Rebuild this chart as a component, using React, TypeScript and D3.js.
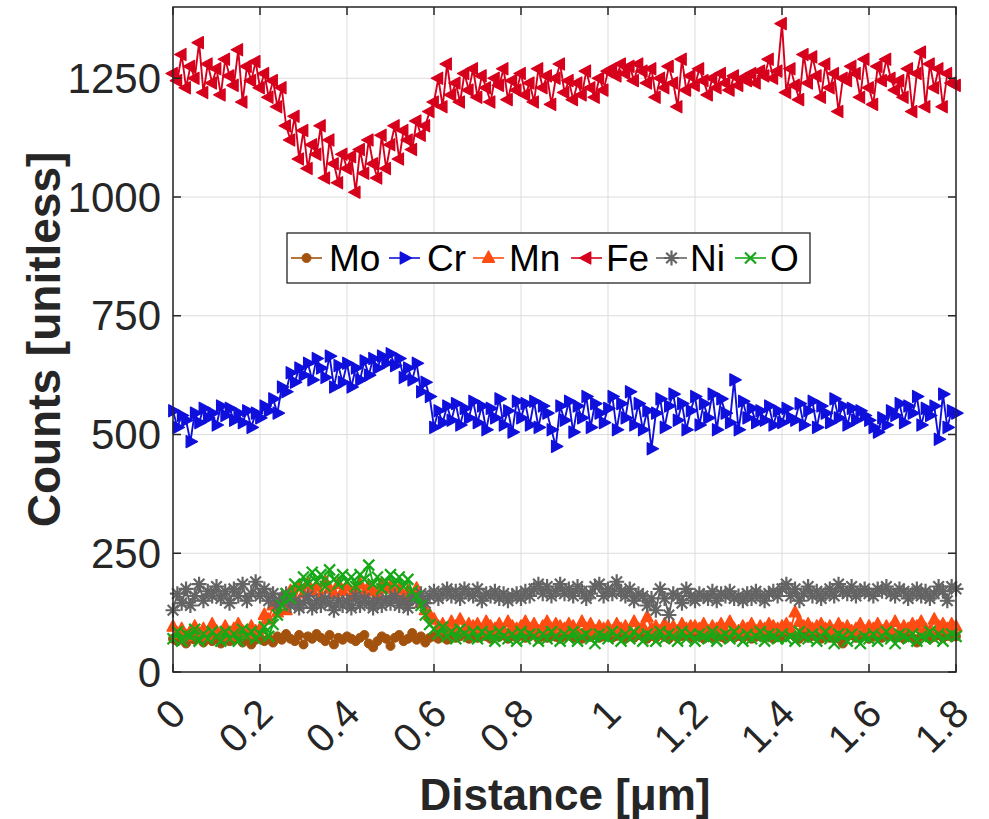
import React from 'react';
import * as d3 from 'd3';

// Line-scan counts along the measured distance, 0.01 µm steps from 0 to 1.8 µm
const distance = d3.range(181).map((i) => Math.round(i) / 100);

const moCounts = [
  70, 65, 75, 60, 70, 68, 72, 62, 75, 65,
  70, 60, 72, 65, 68, 75, 62, 70, 58, 68,
  72, 65, 70, 62, 75, 68, 80, 70, 65, 78,
  58, 75, 70, 80, 72, 65, 78, 58, 72, 68,
  75, 70, 65, 72, 78, 60, 52, 65, 75, 70,
  55, 72, 78, 65, 70, 82, 68, 75, 62, 72,
  75, 70, 78, 68, 80, 72, 75, 82, 70, 78,
  72, 80, 75, 70, 78, 74, 80, 70, 76, 72,
  78, 72, 75, 80, 70, 76, 72, 78, 74, 70,
  75, 80, 72, 78, 70, 76, 74, 80, 72, 75,
  78, 72, 76, 80, 70, 75, 72, 78, 74, 70,
  76, 72, 80, 74, 70, 78, 72, 76, 80, 72,
  74, 78, 70, 76, 72, 80, 74, 70, 78, 72,
  76, 72, 78, 70, 74, 80, 72, 76, 70, 78,
  72, 76, 80, 74, 70, 78, 72, 76, 74, 70,
  78, 72, 76, 70, 60, 74, 78, 72, 76, 80,
  70, 74, 78, 72, 76, 80, 72, 74, 70, 78,
  72, 62, 76, 80, 70, 74, 78, 72, 76, 74,
  75,
];

const crCounts = [
  550, 515, 540, 530, 485, 545, 525, 555, 535, 545,
  520, 560, 540, 555, 530, 545, 525, 550, 515, 545,
  535, 560, 550, 575, 545, 600, 590, 630, 610, 640,
  625, 650, 615, 660, 640, 620, 665, 600, 645, 610,
  650, 600, 640, 615, 655, 625, 660, 640, 665, 650,
  670, 645, 660, 620, 640, 615, 650, 590, 610, 580,
  515, 550, 525, 560, 530, 565, 520, 555, 535, 570,
  525, 560, 510, 555, 535, 575, 520, 550, 505, 570,
  535, 565, 520, 570, 515, 560, 545, 510, 475, 560,
  530, 570, 505, 560, 535, 580, 515, 565, 545, 525,
  555, 580, 510, 565, 535, 590, 520, 565, 510, 550,
  470, 545, 575, 515, 560, 585, 530, 565, 510, 550,
  580, 520, 565, 535, 585, 510, 575, 545, 525, 615,
  510, 570, 535, 555, 525, 550, 530, 560, 520, 550,
  525, 555, 535, 530, 565, 520, 550, 570, 515, 560,
  545, 525, 575, 535, 560, 520, 555, 530, 550, 540,
  530, 515, 505, 535, 520, 550, 540, 565, 525, 560,
  545, 580, 520, 555, 540, 560, 490, 585, 515, 550,
  545,
];

const mnCounts = [
  95, 80, 90, 75, 85, 95, 80, 90, 75, 100,
  85, 80, 95, 75, 90, 100, 85, 80, 95, 85,
  90, 120, 110, 140, 125, 155, 130, 170, 150, 180,
  165, 185, 170, 180, 160, 190, 175, 165, 185, 170,
  180, 160, 175, 185, 165, 180, 170, 160, 185, 175,
  180, 165, 175, 150, 170, 160, 175, 145, 130, 120,
  110, 95, 100, 90, 105, 95, 110, 90, 100, 95,
  100, 85, 105, 95, 90, 100, 85, 105, 95, 90,
  95, 105, 90, 100, 85, 95, 105, 90, 100, 95,
  90, 100, 95, 85, 105, 90, 100, 85, 95, 90,
  95, 85, 100, 90, 95, 85, 105, 90, 95, 115,
  90, 95, 85, 100, 90, 95, 85, 100, 90, 95,
  95, 90, 100, 85, 95, 90, 100, 85, 105, 90,
  85, 95, 90, 100, 85, 95, 90, 100, 95, 90,
  95, 100, 90, 125, 105, 95, 100, 90, 95, 100,
  90, 95, 85, 100, 90, 95, 85, 90, 100, 85,
  95, 90, 100, 85, 95, 90, 105, 85, 95, 90,
  100, 95, 105, 90, 85, 110, 95, 100, 90, 100,
  95,
];

const feCounts = [
  1260, 1245, 1300, 1230, 1275, 1250, 1325, 1220, 1280, 1240,
  1270, 1215, 1290, 1255, 1235, 1310, 1200, 1275, 1245, 1285,
  1230, 1260, 1210, 1245, 1190, 1230, 1150, 1120, 1170, 1080,
  1140, 1060, 1110, 1090, 1150, 1040, 1120, 1070, 1030, 1090,
  1060, 1085, 1010, 1100, 1050, 1120, 1070, 1040, 1130, 1060,
  1110, 1150, 1080, 1140, 1120, 1100, 1160, 1130, 1150, 1180,
  1200, 1250, 1190, 1280, 1215, 1240, 1200, 1260, 1225, 1270,
  1210, 1255, 1230, 1200, 1250, 1235, 1270, 1205, 1245, 1225,
  1260, 1215, 1240, 1200, 1270, 1230, 1255, 1195, 1250, 1280,
  1220, 1245, 1205, 1240, 1215, 1265, 1230, 1210, 1250, 1225,
  1265, 1270, 1255, 1280, 1260, 1275, 1245, 1280, 1265, 1240,
  1270, 1210, 1250, 1230, 1275, 1240, 1190, 1290, 1225, 1255,
  1235, 1270, 1245, 1215, 1250, 1230, 1260, 1240, 1225, 1255,
  1235, 1250, 1245, 1260, 1240, 1265, 1255, 1290, 1250, 1265,
  1365, 1220, 1270, 1235, 1205, 1300, 1240, 1295, 1255, 1210,
  1280, 1230, 1260, 1180, 1250, 1245, 1275, 1260, 1210, 1290,
  1230, 1195, 1275, 1245, 1290, 1250, 1225, 1245, 1210, 1270,
  1180, 1260, 1305, 1190, 1280, 1230, 1270, 1190, 1260, 1240,
  1235,
];

const niCounts = [
  130, 165, 145, 175, 140, 160, 185, 150, 170, 160,
  180, 155, 170, 145, 175, 160, 185, 150, 165, 190,
  160, 175, 150, 165, 140, 155, 165, 140, 150, 135,
  145, 160, 135, 150, 140, 155, 145, 130, 150, 140,
  150, 135, 160, 140, 155, 145, 135, 150, 140, 155,
  145, 160, 140, 150, 135, 155, 150, 165, 145, 160,
  170, 155, 165, 175, 160, 170, 155, 175, 165, 160,
  175, 150, 165, 160, 170, 155, 165, 150, 160, 165,
  155, 170, 160, 175, 185, 165, 180, 160, 170, 185,
  165, 175, 160, 180, 170, 155, 165, 180, 185, 160,
  175, 165, 190, 170, 160, 175, 150, 165, 160, 140,
  155, 130, 175, 155, 120, 165, 160, 145, 175, 160,
  150, 165, 160, 155, 170, 150, 165, 160, 170, 155,
  160, 150, 165, 155, 170, 160, 150, 165, 170, 160,
  175, 185, 160, 175, 150, 165, 180, 160, 170, 155,
  165, 175, 160, 185, 170, 165, 180, 160, 170, 175,
  165, 160, 175, 170, 180, 165, 160, 175, 170, 155,
  165, 175, 160, 170, 155, 165, 180, 170, 150, 180,
  175,
];

const oCounts = [
  70, 85, 65, 80, 75, 90, 65, 80, 70, 85,
  75, 65, 85, 70, 80, 65, 90, 75, 85, 70,
  80, 95, 75, 100, 120, 140, 165, 155, 185, 175,
  200, 185, 210, 190, 205, 180, 215, 195, 185, 205,
  190, 200, 180, 205, 195, 225, 185, 200, 175, 190,
  205, 185, 200, 180, 195, 170, 160, 140, 120, 100,
  90, 80, 95, 75, 85, 70, 90, 80, 75, 85,
  70, 85, 75, 80, 65, 85, 75, 70, 80, 65,
  85, 70, 80, 75, 65, 80, 70, 85, 75, 65,
  80, 70, 85, 65, 75, 80, 70, 60, 80, 75,
  70, 85, 75, 65, 80, 70, 85, 75, 65, 80,
  75, 65, 85, 70, 80, 75, 65, 85, 70, 80,
  65, 80, 75, 70, 85, 65, 75, 80, 70, 85,
  75, 65, 80, 70, 75, 85, 65, 80, 75, 70,
  80, 70, 75, 65, 85, 75, 70, 80, 65, 75,
  85, 70, 60, 80, 75, 65, 80, 70, 60, 75,
  70, 80, 65, 75, 85, 70, 60, 80, 75, 70,
  80, 65, 75, 70, 85, 70, 80, 65, 75, 80,
  75,
];

const xTicks = [0, 0.2, 0.4, 0.6, 0.8, 1, 1.2, 1.4, 1.6, 1.8];
const xTickLabels = ['0', '0.2', '0.4', '0.6', '0.8', '1', '1.2', '1.4', '1.6', '1.8'];
const yTicks = [0, 250, 500, 750, 1000, 1250];
const yTickLabels = ['0', '250', '500', '750', '1000', '1250'];

type MarkerKind = 'circle' | 'right' | 'up' | 'left' | 'star' | 'cross';

const seriesNames = ['Mo', 'Cr', 'Mn', 'Fe', 'Ni', 'O'];
const seriesValues = [moCounts, crCounts, mnCounts, feCounts, niCounts, oCounts];
const seriesColors = ['#a3520e', '#1010dc', '#ff4c12', '#d6001c', '#646464', '#17a817'];
const seriesMarkers: MarkerKind[] = ['circle', 'right', 'up', 'left', 'star', 'cross'];

const plot = { left: 173, right: 956, top: 7, bottom: 672 };
const axisColor = '#262626';
const font = 'Liberation Sans, Arial, Helvetica, sans-serif';

function Marker({ kind, x, y, color }: { kind: MarkerKind; x: number; y: number; color: string }) {
  const s = 7;
  const h = s * 0.85;
  if (kind === 'circle') {
    return <circle cx={x} cy={y} r={4.5} fill={color} stroke={color} strokeWidth={1} />;
  }
  if (kind === 'right' || kind === 'left' || kind === 'up') {
    let pts: [number, number][];
    if (kind === 'right') pts = [[x + s, y], [x - s * 0.6, y - h], [x - s * 0.6, y + h]];
    else if (kind === 'left') pts = [[x - s, y], [x + s * 0.6, y - h], [x + s * 0.6, y + h]];
    else pts = [[x, y - s], [x - h, y + s * 0.6], [x + h, y + s * 0.6]];
    return (
      <polygon
        points={pts.map((p) => p.join(',')).join(' ')}
        fill={color}
        stroke={color}
        strokeWidth={1.4}
        strokeLinejoin="round"
      />
    );
  }
  if (kind === 'star') {
    const r = 7.5;
    const d = r * Math.SQRT1_2;
    return (
      <path
        d={`M${x - r},${y}L${x + r},${y}M${x},${y - r}L${x},${y + r}M${x - d},${y - d}L${x + d},${y + d}M${x - d},${y + d}L${x + d},${y - d}`}
        stroke={color}
        strokeWidth={2.2}
      />
    );
  }
  const r = 5.5;
  return (
    <path
      d={`M${x - r},${y - r}L${x + r},${y + r}M${x - r},${y + r}L${x + r},${y - r}`}
      stroke={color}
      strokeWidth={2.2}
    />
  );
}

export default function App() {
  const x = d3.scaleLinear().domain([0, 1.8]).range([plot.left, plot.right]);
  const y = d3.scaleLinear().domain([0, 1400]).range([plot.bottom, plot.top]);
  const tickLen = 8;

  const line = d3
    .line<[number, number]>()
    .x((d) => x(d[0]))
    .y((d) => y(d[1]));

  const legend = { x: 287, y: 233, w: 523, h: 50 };
  const legendLineStarts = [291, 389, 473, 571, 656, 735];
  const legendTextStarts = [329, 427, 509, 606, 690, 770];
  const legendLineLen = 31;
  const legendMid = legend.y + legend.h / 2;

  return (
    <svg
      width={989}
      height={819}
      style={{ position: 'absolute', left: 0, top: 0, background: '#ffffff' }}
      fontFamily={font}
    >
      <rect x={0} y={0} width={989} height={819} fill="#ffffff" />

      {/* grid */}
      <g stroke="#dcdcdc" strokeWidth={1}>
        {xTicks.map((t) => (
          <line key={'gx' + t} x1={x(t)} x2={x(t)} y1={plot.top} y2={plot.bottom} />
        ))}
        {yTicks.map((t) => (
          <line key={'gy' + t} x1={plot.left} x2={plot.right} y1={y(t)} y2={y(t)} />
        ))}
      </g>

      {/* series */}
      {seriesNames.map((name, si) => {
        const pts: [number, number][] = distance.map((d, i) => [d, seriesValues[si][i]]);
        return (
          <g key={name}>
            <path d={line(pts) || ''} fill="none" stroke={seriesColors[si]} strokeWidth={1.9} strokeLinejoin="round" />
            {pts.map((p, i) => (
              <Marker key={i} kind={seriesMarkers[si]} x={x(p[0])} y={y(p[1])} color={seriesColors[si]} />
            ))}
          </g>
        );
      })}

      {/* axes box and ticks */}
      <rect
        x={plot.left}
        y={plot.top}
        width={plot.right - plot.left}
        height={plot.bottom - plot.top}
        fill="none"
        stroke={axisColor}
        strokeWidth={1.5}
      />
      <g stroke={axisColor} strokeWidth={1.5}>
        {xTicks.map((t) => (
          <g key={'tx' + t}>
            <line x1={x(t)} x2={x(t)} y1={plot.bottom} y2={plot.bottom - tickLen} />
            <line x1={x(t)} x2={x(t)} y1={plot.top} y2={plot.top + tickLen} />
          </g>
        ))}
        {yTicks.map((t) => (
          <g key={'ty' + t}>
            <line x1={plot.left} x2={plot.left + tickLen} y1={y(t)} y2={y(t)} />
            <line x1={plot.right} x2={plot.right - tickLen} y1={y(t)} y2={y(t)} />
          </g>
        ))}
      </g>

      {/* y tick labels */}
      <g fontSize={42} fill={axisColor} textAnchor="end">
        {yTicks.map((t, i) => (
          <text key={'ly' + t} x={plot.left - 12} y={y(t)} dy="0.35em">
            {yTickLabels[i]}
          </text>
        ))}
      </g>

      {/* x tick labels, rotated */}
      <g fontSize={40} fill={axisColor} textAnchor="end">
        {xTicks.map((t, i) => {
          const ax = x(t) + 5;
          const ay = plot.bottom + 34;
          return (
            <text key={'lx' + t} x={ax} y={ay} dy="0.35em" transform={`rotate(-45 ${ax} ${ay})`}>
              {xTickLabels[i]}
            </text>
          );
        })}
      </g>

      {/* axis titles */}
      <text x={565} y={810} fontSize={44} fontWeight="bold" textAnchor="middle" fill={axisColor}>
        Distance [μm]
      </text>
      <text
        transform={`translate(60 ${(plot.top + plot.bottom) / 2}) rotate(-90)`}
        fontSize={46}
        fontWeight="bold"
        textAnchor="middle"
        fill={axisColor}
      >
        Counts [unitless]
      </text>

      {/* legend */}
      <rect x={legend.x} y={legend.y} width={legend.w} height={legend.h} fill="#ffffff" stroke={axisColor} strokeWidth={1.3} />
      {seriesNames.map((name, si) => {
        const lx = legendLineStarts[si];
        return (
          <g key={'lg' + name}>
            <line x1={lx} x2={lx + legendLineLen} y1={legendMid} y2={legendMid} stroke={seriesColors[si]} strokeWidth={1.6} />
            <Marker kind={seriesMarkers[si]} x={lx + legendLineLen / 2} y={legendMid} color={seriesColors[si]} />
            <text x={legendTextStarts[si]} y={legendMid} dy="0.36em" fontSize={37} fill="#000000">
              {name}
            </text>
          </g>
        );
      })}
    </svg>
  );
}
